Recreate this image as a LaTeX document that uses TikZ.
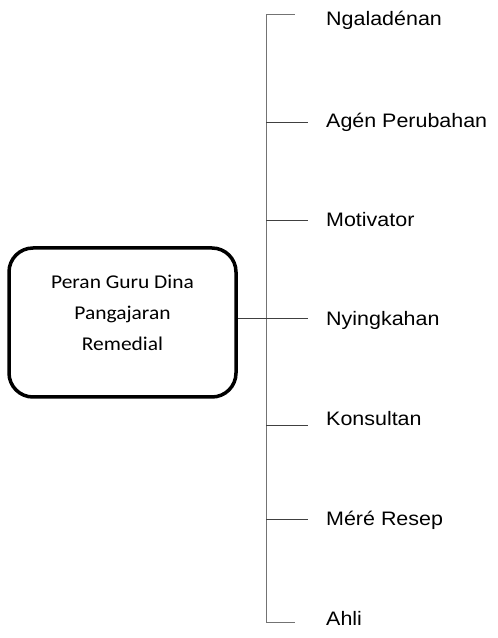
\documentclass[tikz,border=0pt]{standalone}
\usepackage{fontspec}
\setmainfont[FakeStretch=1.1]{Liberation Sans}
\newfontfamily\boxfont[FakeStretch=1.1]{Carlito}
\usetikzlibrary{positioning}

\begin{document}
\begin{tikzpicture}[x=1pt,y=1pt,
      every node/.style={inner sep=0pt},
      peran/.style={draw,line width=3.5pt,rounded corners=24pt,
        minimum width=227pt,minimum height=149pt},
      role/.style={anchor=west,font=\fontsize{19.5}{22}\selectfont},
      branch/.style={draw=black!75,line width=0.9pt}]
    \useasboundingbox (0,0) rectangle (498,638);
    \node[peran] (box) at (122.5,315.5) {};
    \node[align=center,font=\boxfont\fontsize{19.5}{31}\selectfont] (judul) at (122.5,325) {Peran Guru Dina\\Pangajaran\\Remedial};
    \coordinate (top) at (266,623);
    \coordinate (bottom) at (266,15);
    \coordinate (mid) at (266,320);
    \draw[draw=black!55,line width=1pt] (top) -- (bottom);
    \draw[branch] (box.east |- mid) -- (mid);
    % cabang
    \node[role] (r1) at (326,618) {Ngaladénan};
    \node[role] (r2) at (326,516) {Agén Perubahan};
    \node[role] (r3) at (326,418) {Motivator};
    \node[role] (r4) at (326,318) {Nyingkahan};
    \node[role] (r5) at (326,219) {Konsultan};
    \node[role] (r6) at (326,118) {Méré Resep};
    \node[role] (r7) at (326,20) {Ahli};
    \draw[draw=black!55,line width=1pt] (top) -- (295,623);
    \draw[branch] (266,516) -- (308,516);
    \draw[branch] (266,418) -- (308,418);
    \draw[branch] (266,320) -- (308,320);
    \draw[branch] (266,213) -- (308,213);
    \draw[branch] (266,119) -- (308,119);
    \draw[draw=black!55,line width=1pt] (bottom) -- (295,15);
\end{tikzpicture}
\end{document}
